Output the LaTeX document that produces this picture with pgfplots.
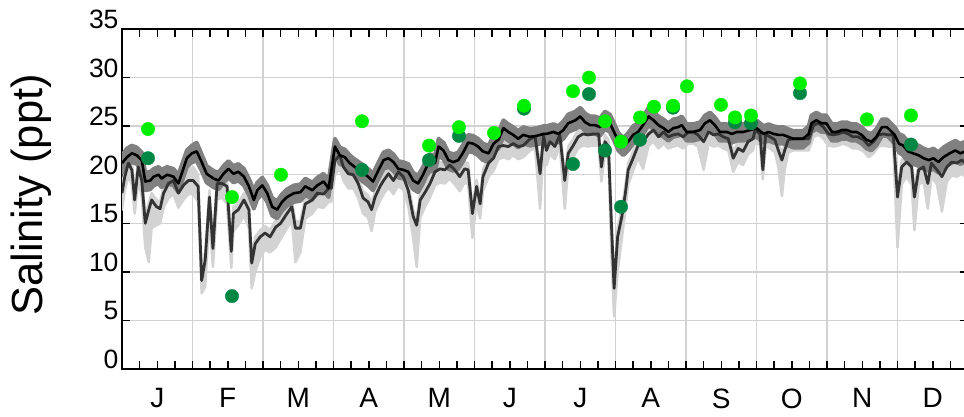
\documentclass[border=0pt]{standalone}
\usepackage{pgfplots}
\pgfplotsset{compat=1.18}
\usepackage{pgfplotstable}
\usepgfplotslibrary{fillbetween}
\usepackage{fontspec}
\setmainfont{Liberation Sans}

\definecolor{lightband}{RGB}{211,211,211}
\definecolor{darkband}{RGB}{128,128,128}
\definecolor{lowline}{RGB}{51,51,51}
\definecolor{litegreen}{RGB}{0,238,0}
\definecolor{darkgreen}{RGB}{0,135,68}
\definecolor{gridgray}{RGB}{210,210,210}

% upper station: mean, band low, band high (x in months)
\pgfplotstableread{
x m lo hi
0.00 21.2 20.2 22.0
0.07 21.8 20.9 22.7
0.14 22.2 21.3 23.0
0.21 22.0 21.1 22.8
0.28 21.5 20.5 22.3
0.33 19.3 18.4 20.2
0.40 19.4 18.5 20.3
0.45 19.8 18.9 20.6
0.52 20.0 19.1 20.8
0.56 19.6 18.7 20.5
0.64 20.0 19.1 20.8
0.73 19.8 18.9 20.6
0.80 19.1 18.2 20.0
0.92 21.7 20.8 22.5
0.99 22.2 21.3 23.0
1.06 22.4 21.4 23.3
1.13 21.3 20.4 22.1
1.20 20.1 19.2 20.9
1.30 19.6 18.7 20.4
1.37 19.4 18.5 20.2
1.44 20.1 19.2 20.9
1.51 20.6 19.7 21.4
1.58 20.1 19.2 20.9
1.65 20.3 19.4 21.1
1.73 19.8 18.9 20.6
1.80 18.8 17.9 19.6
1.87 17.4 16.5 18.4
1.92 18.4 17.5 19.2
1.99 18.9 18.0 19.7
2.06 18.1 17.2 18.9
2.13 16.7 15.8 17.6
2.20 16.4 15.5 17.3
2.27 17.2 16.3 18.0
2.34 17.7 16.8 18.5
2.44 18.1 17.2 18.9
2.53 18.2 17.3 19.0
2.60 18.8 17.9 19.6
2.70 18.4 17.5 19.2
2.77 18.9 18.0 19.7
2.86 19.3 18.4 20.1
2.93 18.6 17.7 19.4
2.97 20.5 19.6 21.3
3.02 22.9 22.0 23.7
3.09 22.0 21.1 22.8
3.16 21.8 20.9 22.6
3.23 21.2 20.3 22.0
3.30 20.8 19.9 21.6
3.40 20.3 19.4 21.1
3.49 19.8 18.9 20.6
3.56 19.3 18.4 20.1
3.64 20.5 19.6 21.3
3.71 21.5 20.6 22.3
3.78 21.7 20.8 22.5
3.85 21.3 20.4 22.1
3.92 20.6 19.7 21.4
3.99 20.5 19.6 21.3
4.06 20.3 19.4 21.1
4.13 19.4 18.5 20.2
4.20 19.1 18.2 19.9
4.27 20.0 19.1 20.8
4.32 20.8 19.9 21.6
4.37 21.3 20.4 22.1
4.44 21.2 20.3 22.0
4.49 22.9 22.0 23.7
4.56 22.5 21.6 23.3
4.63 21.5 20.6 22.3
4.70 21.3 20.4 22.1
4.77 21.5 20.6 22.3
4.84 22.3 21.4 23.1
4.91 23.3 22.4 24.1
4.98 23.2 22.3 24.0
5.05 22.9 22.0 23.7
5.12 22.4 21.5 23.2
5.20 22.2 21.3 23.0
5.27 23.2 22.3 24.0
5.34 23.6 22.7 24.4
5.41 24.8 23.9 25.6
5.48 24.4 23.5 25.2
5.55 24.1 23.2 24.9
5.62 23.7 22.8 24.5
5.69 24.1 23.2 24.9
5.79 23.9 23.0 24.7
5.88 24.0 23.1 24.8
5.98 24.2 23.3 25.0
6.02 24.2 23.3 25.0
6.12 24.4 23.5 25.2
6.19 24.2 23.3 25.0
6.26 24.6 23.7 25.5
6.33 25.3 24.4 26.2
6.43 25.6 24.7 26.5
6.50 26.0 25.0 26.9
6.57 25.4 24.5 26.3
6.64 25.1 24.2 26.0
6.71 25.1 24.2 26.0
6.78 24.9 24.0 25.8
6.85 25.6 24.7 26.5
6.92 25.3 24.4 26.2
6.98 24.4 23.5 25.3
7.04 23.4 22.5 24.3
7.11 22.9 22.0 23.8
7.18 23.4 22.5 24.3
7.25 24.1 23.2 25.0
7.32 24.4 23.5 25.3
7.39 25.1 24.2 26.0
7.47 26.0 25.1 26.9
7.54 25.6 24.7 26.5
7.61 25.1 24.2 26.0
7.68 24.8 23.9 25.7
7.75 24.4 23.5 25.3
7.82 24.8 23.9 25.7
7.89 24.9 24.0 25.8
7.94 25.1 24.2 26.0
8.01 24.4 23.5 25.2
8.10 24.4 23.5 25.2
8.20 24.6 23.7 25.4
8.27 25.3 24.4 26.1
8.34 25.6 24.7 26.4
8.41 25.1 24.2 25.9
8.48 24.4 23.5 25.2
8.58 24.4 23.5 25.2
8.65 24.2 23.3 25.0
8.72 24.4 23.5 25.2
8.81 24.4 23.5 25.2
8.91 24.6 23.7 25.4
9.00 24.8 23.9 25.6
9.10 24.2 23.3 25.0
9.17 24.4 23.5 25.2
9.24 24.2 23.3 25.0
9.31 24.1 23.2 24.9
9.38 24.1 23.2 24.9
9.45 23.9 23.0 24.7
9.52 23.7 22.8 24.5
9.59 23.7 22.8 24.5
9.66 23.7 22.8 24.5
9.74 24.2 23.3 25.0
9.78 25.3 24.4 26.1
9.85 25.6 24.7 26.4
9.92 25.3 24.4 26.1
9.99 25.3 24.4 26.1
10.07 24.4 23.5 25.2
10.14 24.4 23.5 25.2
10.21 24.6 23.7 25.4
10.28 24.6 23.7 25.4
10.35 24.4 23.5 25.2
10.42 24.4 23.5 25.2
10.49 24.1 23.2 24.9
10.56 23.6 22.7 24.4
10.63 23.4 22.5 24.2
10.70 23.9 23.0 24.7
10.78 24.9 24.0 25.7
10.85 24.9 24.0 25.7
10.92 24.4 23.5 25.2
10.96 24.1 23.2 24.9
11.02 23.2 22.3 24.2
11.08 23.0 22.0 24.0
11.15 22.4 21.3 23.4
11.22 22.2 21.1 23.2
11.30 22.0 20.9 23.0
11.37 21.7 20.6 22.7
11.44 21.5 20.4 22.5
11.51 21.7 20.6 22.7
11.58 21.3 20.2 22.3
11.65 21.8 20.7 22.8
11.74 22.2 21.1 23.2
11.82 22.5 21.4 23.5
11.89 22.2 21.1 23.2
11.96 22.4 21.3 23.4
12.00 22.3 21.2 23.3
}\uptab

% lower station: mean, band low, band high
\pgfplotstableread{
x m lo hi
0.00 18.1 16.4 18.8
0.04 19.8 18.4 20.5
0.09 21.2 19.8 21.9
0.14 20.5 19.0 21.2
0.18 17.4 16.0 18.3
0.23 20.8 19.3 21.5
0.28 19.4 17.8 20.1
0.33 15.0 12.5 15.8
0.38 16.4 11.0 17.1
0.42 17.4 14.5 18.1
0.49 16.7 14.8 17.4
0.54 16.5 15.0 17.2
0.59 18.1 16.6 18.8
0.66 19.1 17.6 19.8
0.73 19.4 18.0 20.1
0.80 18.1 16.6 19.0
0.87 18.9 17.4 19.8
0.94 19.4 18.0 20.6
1.01 19.4 18.0 20.8
1.08 18.8 17.2 20.0
1.13 9.1 7.8 10.0
1.18 11.2 8.5 12.0
1.24 17.7 15.5 18.4
1.29 12.4 10.5 13.2
1.35 19.1 17.5 19.8
1.42 19.1 17.6 19.8
1.49 18.8 17.0 19.5
1.55 12.1 10.4 12.9
1.58 16.0 14.2 16.7
1.65 16.4 14.8 17.1
1.73 17.4 15.8 18.1
1.80 16.4 14.5 17.1
1.84 10.9 8.3 11.6
1.89 12.9 10.0 13.6
1.96 13.6 11.5 14.3
2.03 14.0 12.3 14.7
2.10 13.6 12.0 14.3
2.18 14.6 12.5 15.3
2.25 15.0 13.4 15.7
2.34 16.0 14.5 16.7
2.41 16.7 15.2 17.4
2.46 14.5 11.0 15.2
2.53 14.5 12.0 15.2
2.60 17.0 15.5 17.7
2.70 17.4 16.0 18.1
2.77 18.1 16.7 18.8
2.86 18.0 16.6 18.7
2.93 18.6 17.2 19.3
2.97 18.6 17.2 19.3
3.02 21.5 20.0 22.2
3.09 22.0 20.6 22.7
3.14 20.8 19.4 21.5
3.21 20.1 18.6 20.8
3.28 20.0 18.6 20.7
3.35 19.1 17.6 19.8
3.42 17.6 16.0 18.3
3.49 17.2 15.6 17.9
3.54 16.4 14.2 17.1
3.59 17.7 16.2 18.4
3.66 18.8 17.3 19.5
3.71 19.4 18.0 20.1
3.78 20.1 18.7 20.8
3.85 19.4 18.0 20.1
3.92 20.3 18.9 21.0
3.99 19.8 18.4 20.5
4.06 18.4 16.8 19.1
4.13 15.7 13.5 16.4
4.18 14.8 10.5 15.5
4.23 17.4 15.6 18.1
4.30 18.2 16.7 18.9
4.37 19.1 17.7 19.8
4.44 20.3 18.9 21.0
4.51 20.6 19.2 21.3
4.58 20.5 19.1 21.2
4.65 21.0 19.6 21.7
4.72 20.5 19.0 21.2
4.79 19.8 18.3 20.5
4.86 20.6 19.2 21.3
4.91 20.5 19.0 21.2
4.97 16.0 13.5 16.7
5.03 18.8 17.2 19.5
5.08 17.0 15.5 17.7
5.12 19.8 18.3 20.5
5.20 21.2 19.8 21.9
5.27 21.7 20.4 22.4
5.34 22.9 21.6 23.6
5.41 23.0 21.8 23.7
5.48 22.9 21.6 23.6
5.55 23.2 22.0 23.9
5.62 22.9 21.6 23.6
5.69 23.0 21.8 23.7
5.79 23.7 22.5 24.4
5.86 23.9 22.7 24.6
5.93 20.1 16.5 20.8
5.98 24.0 22.8 24.7
6.02 22.5 21.0 23.2
6.07 23.4 22.1 24.1
6.14 22.9 21.6 23.6
6.21 24.1 22.9 24.8
6.28 19.4 16.5 20.1
6.33 22.2 20.8 22.9
6.40 23.0 21.8 23.7
6.47 23.9 22.7 24.6
6.54 24.2 23.0 24.9
6.61 24.1 22.9 24.8
6.69 24.2 23.0 24.9
6.76 24.2 23.0 24.9
6.80 20.8 19.3 21.5
6.85 23.4 22.1 24.1
6.90 22.9 21.6 23.6
6.94 15.3 12.0 16.0
6.98 8.3 5.4 9.0
7.03 13.6 10.0 14.5
7.09 15.7 13.5 16.6
7.14 18.1 16.3 18.9
7.18 20.5 19.0 21.2
7.25 21.7 20.4 22.4
7.32 23.0 21.8 23.7
7.39 23.4 20.6 24.1
7.47 24.2 23.0 24.9
7.54 24.6 23.4 25.3
7.61 23.9 22.7 24.6
7.68 24.4 23.2 25.1
7.75 23.9 22.7 24.6
7.82 24.1 22.9 24.8
7.89 24.2 23.0 24.9
7.96 23.9 22.7 24.6
8.03 24.4 23.2 25.1
8.10 24.4 23.2 25.1
8.17 24.1 22.9 24.8
8.25 23.4 20.5 24.1
8.32 24.4 23.2 25.1
8.39 24.1 22.9 24.8
8.46 24.2 23.0 24.9
8.53 23.9 22.7 24.6
8.60 23.7 22.5 24.4
8.67 21.7 20.3 22.4
8.74 22.7 21.3 23.4
8.81 22.4 21.0 23.1
8.88 23.4 22.1 24.1
8.95 23.7 22.5 24.4
8.98 24.6 23.4 25.3
9.05 24.2 23.0 24.9
9.09 20.5 19.5 21.2
9.13 24.2 23.0 24.9
9.19 23.9 22.7 24.6
9.26 23.6 22.3 24.3
9.31 22.5 20.8 23.2
9.36 21.5 17.8 22.2
9.40 22.5 20.5 23.2
9.45 23.6 22.3 24.3
9.52 23.7 22.5 24.4
9.59 23.7 22.5 24.4
9.66 23.7 22.5 24.4
9.74 23.7 22.5 24.4
9.81 25.1 23.9 25.8
9.88 25.3 24.1 26.0
9.95 24.9 23.7 25.6
10.02 24.2 23.0 24.9
10.09 24.1 22.9 24.8
10.16 24.2 23.0 24.9
10.23 24.4 23.2 25.1
10.30 24.2 23.0 24.9
10.37 23.9 22.7 24.6
10.44 23.9 22.7 24.6
10.52 23.6 22.4 24.3
10.59 23.0 21.8 23.7
10.66 23.4 22.2 24.1
10.73 24.1 22.9 24.8
10.80 24.2 23.0 24.9
10.87 24.1 22.9 24.8
10.94 24.1 22.9 24.8
11.00 17.7 12.5 18.4
11.06 20.8 19.0 21.5
11.13 21.3 19.8 22.0
11.20 20.8 19.0 21.5
11.24 17.7 14.3 18.4
11.30 20.5 19.0 21.2
11.37 20.8 19.3 21.5
11.43 19.1 16.5 19.8
11.48 21.2 19.8 21.9
11.56 20.5 19.0 21.2
11.63 19.8 16.2 20.5
11.70 20.8 19.3 21.5
11.77 21.3 19.9 22.0
11.84 21.2 19.8 21.9
11.91 21.5 20.1 22.2
12.00 21.0 19.6 21.7
}\lowtab

\begin{document}
\begin{tikzpicture}
\begin{axis}[
  at={(122bp,48bp)}, anchor=south west,
  scale only axis, width=846bp, height=340bp,
  xmin=0, xmax=12, ymin=0, ymax=35,
  xtick={0,...,12}, xticklabels={},
  minor x tick num=3,
  ytick={0,5,...,35},
  xmajorgrids, ymajorgrids,
  grid style={draw=gridgray, line width=1.3bp},
  tick align=inside,
  major tick length=8bp, minor tick length=8bp,
  every tick/.style={black, line width=1.5bp},
  axis line style={line width=2bp},
  extra x ticks={0.5,1.5,...,11.5},
  extra x tick labels={J,F,M,A,M,J,J,A,S,O,N,D},
  extra x tick style={grid=none, major tick length=0pt,
    tick label style={font=\fontsize{28bp}{28bp}\selectfont, yshift=-16bp}},
  /pgf/number format/assume math mode=true,
  yticklabel style={font=\fontsize{26.5bp}{26.5bp}\selectfont, yshift=9.5bp},
  ylabel={Salinity (ppt)},
  ylabel style={font=\fontsize{43.5bp}{43.5bp}\selectfont,
    at={(axis description cs:-0.1076,0.512)}, anchor=center, inner sep=0pt},
]
\addplot[name path=llo, draw=none, forget plot] table[x=x, y=lo] {\lowtab};
\addplot[name path=lhi, draw=none, forget plot] table[x=x, y=hi] {\lowtab};
\addplot[fill=lightband, draw=lightband, line width=2.5bp, line join=round] fill between[of=lhi and llo];

\addplot[name path=ulo, draw=none, forget plot] table[x=x, y=lo] {\uptab};
\addplot[name path=uhi, draw=none, forget plot] table[x=x, y=hi] {\uptab};
\addplot[fill=darkband, draw=darkband, line width=4bp, line join=round] fill between[of=uhi and ulo];

\addplot[lowline, line width=2.8bp, line join=round] table[x=x, y=m] {\lowtab};
\addplot[black, line width=2.6bp, line join=round] table[x=x, y=m] {\uptab};

\addplot[only marks, mark=*, mark size=6.7bp, darkgreen, mark options={draw=none, fill=darkgreen}]
coordinates {
  (0.369,21.7) (1.560,7.5) (3.404,20.5) (4.355,21.5) (4.780,24.0)
  (5.702,26.8) (6.397,21.1) (6.624,28.3) (6.851,22.5) (7.078,16.7)
  (7.348,23.6) (7.816,26.9) (8.695,25.4) (8.922,25.3) (9.617,28.4)
  (11.191,23.1)
};
\addplot[only marks, mark=*, mark size=6.7bp, litegreen, mark options={draw=none, fill=litegreen}]
coordinates {
  (0.369,24.7) (1.560,17.7) (2.255,20.0) (3.404,25.5) (4.355,23.0)
  (4.780,24.9) (5.277,24.3) (5.702,27.1) (6.397,28.6) (6.624,30.0)
  (6.851,25.5) (7.078,23.4) (7.348,25.9) (7.546,27.0) (7.816,27.1)
  (8.014,29.1) (8.496,27.2) (8.695,25.9) (8.922,26.1) (9.617,29.4)
  (10.567,25.7) (11.191,26.1)
};
\end{axis}
\pgfresetboundingbox
\path (0,0) rectangle (964bp,417bp);
\end{tikzpicture}
\end{document}
